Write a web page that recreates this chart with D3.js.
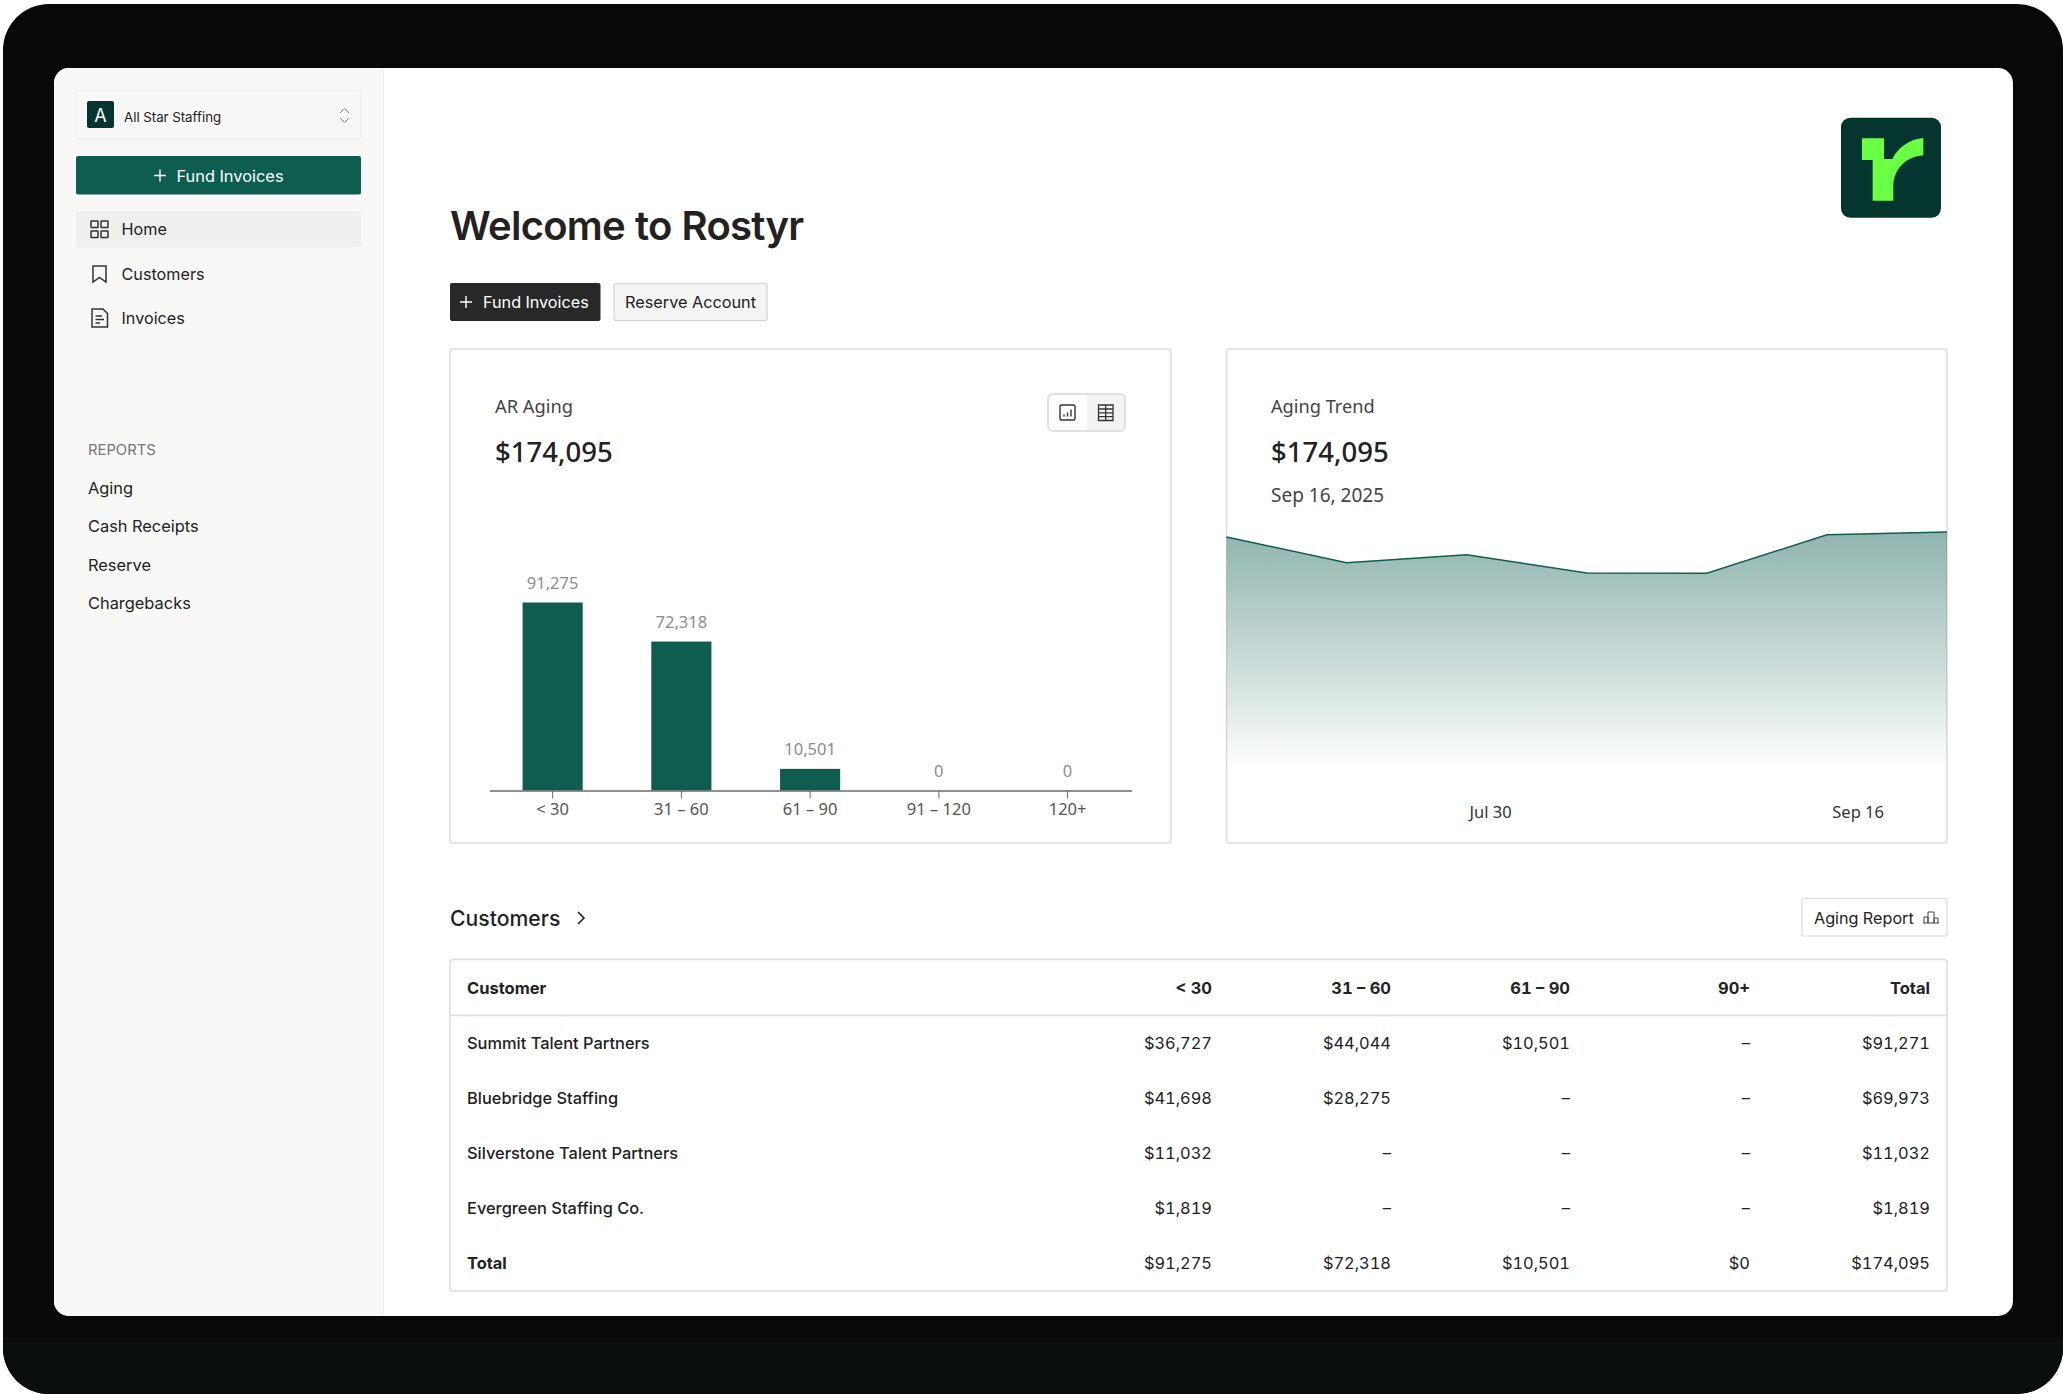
<!DOCTYPE html>
<html>
<head>
<meta charset="utf-8">
<title>Rostyr</title>
<script src="https://cdn.jsdelivr.net/npm/d3@7"></script>
<style>
  html, body { margin: 0; padding: 0; background: #fff; }
  svg { display: block; }
  text { font-family: Inter, "Noto Sans", sans-serif; font-variant-numeric: tabular-nums; }
  .plex { font-family: "Noto Sans", Roboto, sans-serif; }
</style>
</head>
<body>
<div id="chart"></div>
<script>
// AR aging buckets
var agingBuckets = ['< 30', '31 – 60', '61 – 90', '91 – 120', '120+'];
var agingValues = [91275, 72318, 10501, 0, 0];

// aging trend (only the last value is printed)
var trendIndex = [0, 1, 2, 3, 4, 5, 6];
var trendValues = [170400, 151400, 157300, 143800, 143600, 172100, 174095];
var trendTickLabels = ['Jul 30', 'Sep 16'];
var trendTickIndex = [2.2, 5.26];

// customers table
var tableColumns = ['Customer', '< 30', '31 – 60', '61 – 90', '90+', 'Total'];
var tableCustomers = ['Summit Talent Partners', 'Bluebridge Staffing', 'Silverstone Talent Partners', 'Evergreen Staffing Co.', 'Total'];
var tableUnder30 = ['$36,727', '$41,698', '$11,032', '$1,819', '$91,275'];
var table31to60 = ['$44,044', '$28,275', '–', '–', '$72,318'];
var table61to90 = ['$10,501', '–', '–', '–', '$10,501'];
var table90plus = ['–', '–', '–', '–', '$0'];
var tableTotal = ['$91,271', '$69,973', '$11,032', '$1,819', '$174,095'];

var navItems = ['Home', 'Customers', 'Invoices'];
var reportItems = ['Aging', 'Cash Receipts', 'Reserve', 'Chargebacks'];

var green = '#0e5e4f', dark = '#04362f', ink = '#222';

var svg = d3.select('#chart').append('svg')
  .attr('width', 2063)
  .attr('height', 1394);

function label(g, x, y, str, size, color, weight, anchor, cls) {
  return g.append('text')
    .attr('class', cls || null)
    .attr('x', x)
    .attr('y', y)
    .attr('dy', '.4em')
    .attr('text-anchor', anchor || 'start')
    .style('font-size', size + 'px')
    .style('font-weight', weight || 400)
    .attr('fill', color)
    .text(str);
}

function plus(g, cx, cy, color) {
  g.append('path')
    .attr('d', 'M' + (cx - 6) + ',' + cy + 'H' + (cx + 6) + 'M' + cx + ',' + (cy - 6) + 'V' + (cy + 6))
    .attr('stroke', color).attr('stroke-width', 1.4).attr('fill', 'none');
}

// device frame and screen
var defs = svg.append('defs');
defs.append('clipPath').attr('id', 'screen').append('rect')
  .attr('x', 54).attr('y', 68).attr('width', 1959).attr('height', 1248).attr('rx', 15);
defs.append('clipPath').attr('id', 'frame').append('rect')
  .attr('x', 3).attr('y', 4).attr('width', 2060).attr('height', 1390).attr('rx', 46);
svg.append('rect').attr('x', 3).attr('y', 4).attr('width', 2060).attr('height', 1390).attr('rx', 46).attr('fill', '#060908');
svg.append('rect').attr('x', 3).attr('y', 1338).attr('width', 2060).attr('height', 56).attr('fill', '#0a0e0d')
  .attr('clip-path', 'url(#frame)');
svg.append('rect').attr('x', 54).attr('y', 68).attr('width', 1959).attr('height', 1248).attr('rx', 15).attr('fill', '#fff');

var screen = svg.append('g').attr('clip-path', 'url(#screen)');

// sidebar
var side = screen.append('g');
side.append('rect').attr('x', 54).attr('y', 68).attr('width', 329.5).attr('height', 1248).attr('fill', '#f8f8f6');
side.append('line').attr('x1', 383.5).attr('x2', 383.5).attr('y1', 68).attr('y2', 1316).attr('stroke', '#f0f0ee');

side.append('rect').attr('x', 76).attr('y', 90).attr('width', 285).attr('height', 49).attr('rx', 3)
  .attr('fill', '#f8f8f6').attr('stroke', '#eeeeec');
side.append('rect').attr('x', 87).attr('y', 101).attr('width', 27).attr('height', 27).attr('rx', 2).attr('fill', dark);
label(side, 100.5, 115, 'A', 18, '#fff', 400, 'middle');
label(side, 124, 116.5, 'All Star Staffing', 13.3, ink);
side.append('path').attr('d', 'M340,113l4.5,-4.5l4.5,4.5M340,118l4.5,4.5l4.5,-4.5')
  .attr('fill', 'none').attr('stroke', '#888').attr('stroke-width', 1);

side.append('rect').attr('x', 76).attr('y', 156).attr('width', 285).attr('height', 38.5).attr('rx', 2).attr('fill', green);
plus(side, 160, 175.5, '#fff');
label(side, 176.5, 175.5, 'Fund Invoices', 16.4, '#fff', 400);

side.append('rect').attr('x', 76).attr('y', 211.5).attr('width', 285).attr('height', 36).attr('rx', 3).attr('fill', '#efefed');

var navY = [229, 274, 318];
navItems.forEach(function(d, i) {
  label(side, 121.5, navY[i], d, 16.2, ink, 400);
});

// nav icons
var icons = side.append('g').attr('fill', 'none').attr('stroke', '#333').attr('stroke-width', 1.5);
[[91, 221], [101, 221], [91, 231], [101, 231]].forEach(function(p) {
  icons.append('rect').attr('x', p[0]).attr('y', p[1]).attr('width', 7).attr('height', 6.5).attr('rx', 0.5);
});
icons.append('path').attr('d', 'M93,266H106V282L99.5,277.5L93,282Z');
icons.append('path').attr('d', 'M92,309H103L107.5,313.5V327H92ZM95.5,316H102M95.5,319.5H104M95.5,323H100');

label(side, 88, 449.5, 'REPORTS', 14.8, '#777');
var reportY = [487.5, 525.5, 564, 602.5];
reportItems.forEach(function(d, i) {
  label(side, 88, reportY[i], d, 16.4, ink);
});

// header
var main = screen.append('g');
label(main, 450, 224, 'Welcome to Rostyr', 40, ink, 600).style('letter-spacing', '-0.75px');

main.append('rect').attr('x', 450).attr('y', 283).attr('width', 150.5).attr('height', 38).attr('rx', 2).attr('fill', '#282828');
plus(main, 466, 302, '#fff');
label(main, 483, 302, 'Fund Invoices', 16.2, '#fff');
main.append('rect').attr('x', 614).attr('y', 283.5).attr('width', 153).attr('height', 37).attr('rx', 2)
  .attr('fill', '#f4f4f4').attr('stroke', '#d2d2d2').attr('stroke-width', 1.2);
label(main, 625, 301.5, 'Reserve Account', 16.3, ink);

// logo, traced in 3x units
var logo = main.append('g').attr('transform', 'translate(1750,90) scale(0.3333)');
logo.append('rect').attr('x', 273).attr('y', 83).attr('width', 300).attr('height', 300).attr('rx', 28).attr('fill', dark);
logo.append('path')
  .attr('d', 'M336,145H402V207H427C445,170 480,148 520,144V196C465,200 430,240 430,290V332H368V210H336Z')
  .attr('fill', '#6bff44');

// cards
function card(x, y, w, h) {
  main.append('rect').attr('x', x).attr('y', y).attr('width', w).attr('height', h).attr('rx', 3)
    .attr('fill', '#fff').attr('stroke', '#dcdcdc').attr('stroke-width', 1.5);
}
card(450, 349, 721, 494);
card(1226.5, 349, 720.5, 494);

// AR aging chart
label(main, 495, 406, 'AR Aging', 18.3, '#444', 400, 'start', 'plex');
label(main, 495, 450.5, '$174,095', 27.5, ink, 500, 'start', 'plex');

var toggle = main.append('g');
toggle.append('rect').attr('x', 1048).attr('y', 394).attr('width', 77).attr('height', 37).attr('rx', 5)
  .attr('fill', '#f3f3f3').attr('stroke', '#dfdfdf').attr('stroke-width', 2);
toggle.append('path').attr('d', 'M1087,395H1053a4.5,4.5 0 0 0 -4,4.5V426a4.5,4.5 0 0 0 4,4H1087Z').attr('fill', '#fff');
toggle.append('rect').attr('x', 1060).attr('y', 405).attr('width', 15).attr('height', 15).attr('rx', 1.5)
  .attr('fill', 'none').attr('stroke', '#333').attr('stroke-width', 1.4);
toggle.append('path').attr('d', 'M1064,416.5v-2M1067.5,416.5v-4M1071,416.5v-7')
  .attr('stroke', '#333').attr('stroke-width', 1.4);
toggle.append('path').attr('d', 'M1098.5,405h14.5v15.5h-14.5zM1098.5,409h14.5M1098.5,412.8h14.5M1098.5,416.6h14.5M1105.7,405v15.5')
  .attr('fill', 'none').attr('stroke', '#333').attr('stroke-width', 1.3);

var barX = d3.scaleBand()
  .domain(agingBuckets)
  .range([489.5, 1131.5])
  .paddingInner(0.533)
  .paddingOuter(0.26)
  .align(0.494);
var barY = d3.scaleLinear()
  .domain([0, 91275])
  .range([790.5, 602.5]);

var bars = main.append('g');
bars.selectAll('rect')
  .data(agingValues)
  .enter().append('rect')
  .attr('x', function(d, i) { return barX(agingBuckets[i]); })
  .attr('y', function(d) { return barY(d); })
  .attr('width', barX.bandwidth())
  .attr('height', function(d) { return barY(0) - barY(d); })
  .attr('fill', green);
bars.selectAll('text')
  .data(agingValues)
  .enter().append('text')
  .attr('class', 'plex')
  .attr('x', function(d, i) { return barX(agingBuckets[i]) + barX.bandwidth() / 2; })
  .attr('y', function(d) { return barY(d) - 20; })
  .attr('dy', '.4em')
  .attr('text-anchor', 'middle')
  .style('font-size', '16.5px')
  .attr('fill', '#8c8c8c')
  .text(function(d) { return d3.format(',')(d); });

var xAxis = main.append('g')
  .attr('transform', 'translate(0,790.5)')
  .call(d3.axisBottom(barX).tickSizeInner(8).tickSizeOuter(0).tickPadding(5));
xAxis.select('.domain').attr('stroke', '#6b6b6b').attr('stroke-width', 1.5);
xAxis.selectAll('.tick line').attr('stroke', '#6b6b6b');
xAxis.selectAll('.tick text')
  .attr('class', 'plex')
  .style('font-size', '16.5px')
  .attr('fill', '#555');

// aging trend chart
label(main, 1271, 406, 'Aging Trend', 18.2, '#444', 400, 'start', 'plex');
label(main, 1271, 450.5, '$174,095', 27.5, ink, 500, 'start', 'plex');
label(main, 1271, 494.5, 'Sep 16, 2025', 19, '#444', 400, 'start', 'plex');

var trendX = d3.scaleLinear().domain([0, 6]).range([1226.5, 1947]);
var trendY = d3.scaleLinear().domain([0, 174095]).range([768, 532]);

var grad = defs.append('linearGradient').attr('id', 'trendFill')
  .attr('gradientUnits', 'userSpaceOnUse')
  .attr('x1', 0).attr('x2', 0).attr('y1', 532).attr('y2', 770);
grad.append('stop').attr('offset', 0).attr('stop-color', green).attr('stop-opacity', 0.46);
grad.append('stop').attr('offset', 0.55).attr('stop-color', green).attr('stop-opacity', 0.22);
grad.append('stop').attr('offset', 1).attr('stop-color', green).attr('stop-opacity', 0);

var area = d3.area()
  .x(function(d) { return trendX(d); })
  .y0(trendY(0))
  .y1(function(d, i) { return trendY(trendValues[i]); });
var line = d3.line()
  .x(function(d) { return trendX(d); })
  .y(function(d, i) { return trendY(trendValues[i]); });

main.append('path').datum(trendIndex).attr('d', area).attr('fill', 'url(#trendFill)');
main.append('path').datum(trendIndex).attr('d', line).attr('fill', 'none').attr('stroke', green).attr('stroke-width', 1.5);

trendTickLabels.forEach(function(d, i) {
  label(main, trendX(trendTickIndex[i]), 811.5, d, 16.5, '#333', 400, 'middle', 'plex');
});

// customers heading
label(main, 450, 918, 'Customers', 21.2, ink, 500);
main.append('path').attr('d', 'M578,912l6,6l-6,6').attr('fill', 'none').attr('stroke', ink).attr('stroke-width', 1.6);

main.append('rect').attr('x', 1802).attr('y', 898.5).attr('width', 145).attr('height', 37.5).attr('rx', 2)
  .attr('fill', '#fff').attr('stroke', '#dcdcdc').attr('stroke-width', 1.2);
label(main, 1814, 917.5, 'Aging Report', 16.2, ink);
main.append('path').attr('d', 'M1924,923V917H1928V923M1928,923V912H1934V923M1934,923V918H1938V923M1923,923H1939')
  .attr('fill', 'none').attr('stroke', '#444').attr('stroke-width', 1);

// customers table
card(450, 959.5, 1497, 331.5);
main.append('line').attr('x1', 450).attr('x2', 1947).attr('y1', 1015.5).attr('y2', 1015.5).attr('stroke', '#dcdcdc').attr('stroke-width', 1.3);

var colX = [467, 1212, 1391, 1570, 1750, 1930];
var rowY = [1042.5, 1097.5, 1152.5, 1207.5, 1262];
var tableCols = [tableCustomers, tableUnder30, table31to60, table61to90, table90plus, tableTotal];

tableColumns.forEach(function(d, i) {
  label(main, colX[i], 987.5, d, 16.5, ink, 700, i ? 'end' : 'start');
});
tableCols.forEach(function(col, c) {
  main.append('g').selectAll('text')
    .data(col)
    .enter().append('text')
    .attr('x', colX[c])
    .attr('y', function(d, r) { return rowY[r]; })
    .attr('dy', '.4em')
    .attr('text-anchor', c ? 'end' : 'start')
    .style('font-size', '16.4px')
    .style('font-weight', function(d, r) { return c === 0 ? (r === 4 ? 700 : 500) : 400; })
    .attr('fill', ink)
    .text(function(d) { return d; });
});
</script>
</body>
</html>
